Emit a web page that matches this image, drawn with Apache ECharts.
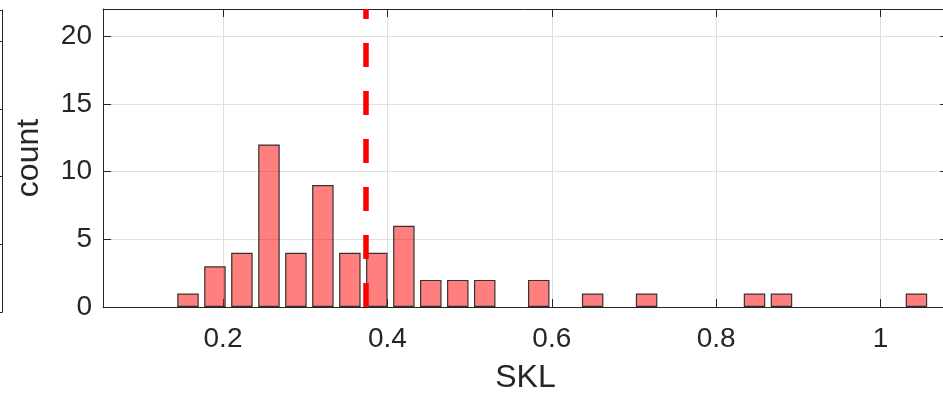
<!DOCTYPE html>
<html><head><meta charset="utf-8">
<script src="https://cdn.jsdelivr.net/npm/echarts@6/dist/echarts.min.js"></script>
<style>html,body{margin:0;padding:0;background:#fff}#c{width:943px;height:395px}</style>
</head><body><div id="c"></div>
<script>
const binCenters = [0.1574,0.1902,0.2230,0.2559,0.2887,0.3215,0.3543,0.3871,0.4200,0.4528,0.4856,0.5184,0.5841,0.6497,0.7153,0.8466,0.8794,1.0436];
const counts = [1,3,4,12,4,9,4,4,6,2,2,2,2,1,1,1,1,1];
const meanSKL = 0.374;
const xTicks = [0.2,0.4,0.6,0.8,1];
const yTicks = [0,5,10,15,20];
const xLimits = [0.054, 1.082];
const yLimits = [0, 22];
const xLabel = 'SKL';
const yLabel = 'count';
const neighbourTicks = [1,2,3,4];

const FONT = '"Liberation Sans", Helvetica, Arial, sans-serif';
const AX = '#262626';
const GRIDC = '#dfdfdf';

const chart = echarts.init(document.getElementById('c'), null, {renderer:'canvas'});
const boxAxis = (extra) => Object.assign({
  type:'value', axisLine:{show:true, onZero:false, lineStyle:{color:AX, width:1}},
  axisLabel:{show:false}, splitLine:{show:false}, axisTick:{show:false}
}, extra);

chart.setOption({
  animation:false,
  backgroundColor:'#fff',
  grid:[
    {left:103, top:9, right:-5, bottom:88, outerBoundsMode:'none', containLabel:false},
    {left:-300, width:302, top:10, bottom:83, outerBoundsMode:'none', containLabel:false}
  ],
  xAxis:[
    {type:'value', gridIndex:0, position:'bottom', min:xLimits[0], max:xLimits[1],
     axisLine:{show:true, onZero:false, lineStyle:{color:AX, width:1}},
     axisTick:{show:true, inside:true, length:8, customValues:xTicks, lineStyle:{color:AX, width:1}},
     axisLabel:{show:true, customValues:xTicks, margin:18, fontSize:28, color:AX, fontFamily:FONT},
     splitLine:{show:true, lineStyle:{color:GRIDC, width:1}},
     name:xLabel, nameLocation:'middle', nameGap:55, nameMoveOverlap:false,
     nameTextStyle:{fontSize:32, color:AX, fontFamily:FONT}},
    boxAxis({gridIndex:0, position:'top', min:xLimits[0], max:xLimits[1],
     axisTick:{show:true, inside:true, length:8, customValues:xTicks, lineStyle:{color:AX, width:1}}}),
    boxAxis({gridIndex:1, position:'bottom', min:0, max:1}),
    boxAxis({gridIndex:1, position:'top', min:0, max:1})
  ],
  yAxis:[
    {type:'value', gridIndex:0, position:'left', min:yLimits[0], max:yLimits[1],
     axisLine:{show:true, onZero:false, lineStyle:{color:AX, width:1}},
     axisTick:{show:true, inside:true, length:8, customValues:yTicks, lineStyle:{color:AX, width:1}},
     axisLabel:{show:true, customValues:yTicks, margin:11, fontSize:28, color:AX, fontFamily:FONT},
     splitLine:{show:true, lineStyle:{color:GRIDC, width:1}},
     name:yLabel, nameLocation:'middle', nameGap:58, nameMoveOverlap:false,
     nameTextStyle:{fontSize:32, color:AX, fontFamily:FONT}},
    boxAxis({gridIndex:0, position:'right', min:yLimits[0], max:yLimits[1],
     axisTick:{show:true, inside:true, length:8, customValues:yTicks, lineStyle:{color:AX, width:1}}}),
    boxAxis({gridIndex:1, position:'right', min:0, max:4.46,
     axisTick:{show:true, inside:true, length:8, customValues:neighbourTicks, lineStyle:{color:AX, width:1}}})
  ],
  series:[{
    type:'bar', xAxisIndex:0, yAxisIndex:0,
    data: binCenters.map((x,i)=>[x, counts[i]]),
    barWidth:21.5,
    itemStyle:{color:'rgba(255,0,0,0.5)', borderColor:'#333333', borderWidth:1.2},
    emphasis:{disabled:true},
    markLine:{
      silent:true, symbol:['none','none'], label:{show:false},
      lineStyle:{color:'#ff0000', width:5.5, type:[24,24], opacity:1},
      emphasis:{disabled:true},
      data:[[{coord:[meanSKL, yLimits[0]]},{coord:[meanSKL, yLimits[1]]}]]
    }
  }]
});
</script></body></html>
